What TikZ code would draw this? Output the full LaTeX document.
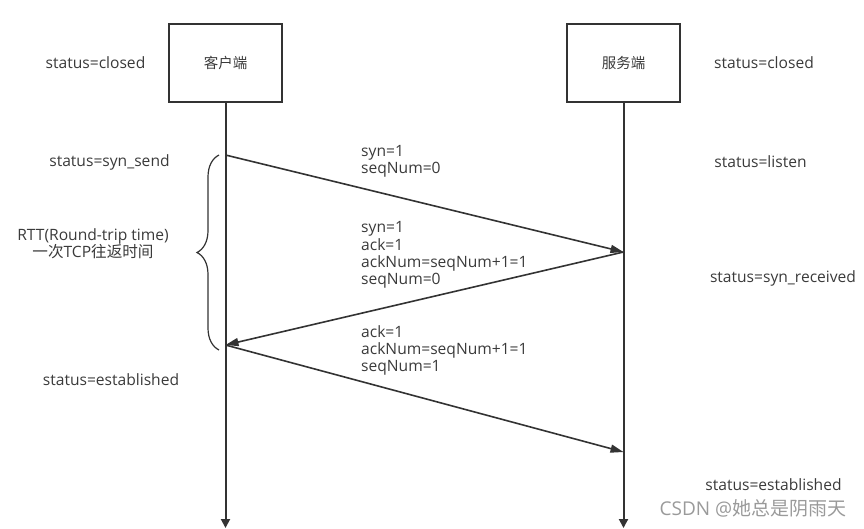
\documentclass[tikz,border=0pt]{standalone}
\usepackage{fontspec}
\setmainfont{Open Sans}
\newfontfamily\cjk{Noto Sans CJK SC}
\usetikzlibrary{arrows.meta,decorations.pathreplacing}
\definecolor{ink}{HTML}{333333}
\definecolor{txt}{HTML}{3A3A3A}
\definecolor{wm}{HTML}{9A9A9A}
\tikzset{
  actor/.style={draw=ink,line width=2.2pt,minimum width=113pt,minimum height=78pt,inner sep=0pt,font=\cjk\fontsize{14.5}{16}\selectfont,text=txt},
  life/.style={draw=ink,line width=2pt,-{Triangle[length=9pt,width=9pt]}},
  msg/.style={draw=ink,line width=1.6pt,-{Triangle[length=13pt,width=8pt]}},
  lbl/.style={anchor=west,inner sep=0pt,align=left,text=txt,font=\fontsize{15.6}{17.4}\selectfont},
  st/.style={inner sep=0pt,text=txt,font=\fontsize{15.6}{17}\selectfont},
}
\begin{document}
\begin{tikzpicture}[x=1pt,y=-1pt]
\useasboundingbox (0,0) rectangle (864,528);
\node[actor] (client) at (225.5,63) {客户端};
\node[actor] (server) at (623.5,63) {服务端};
\coordinate (cend) at (225.5,528);
\coordinate (send) at (623.5,528);
\draw[life] (client.south) -- (cend);
\draw[life] (server.south) -- (send);
\coordinate (c1) at (225.5,155);
\coordinate (s1) at (623.5,252);
\coordinate (c2) at (225.5,345);
\coordinate (s2) at (623.5,452);
\draw[msg] (c1) -- (s1);
\draw[msg] (s1) -- (c2);
\draw[msg] (c2) -- (s2);
\node[lbl] (m1) at (361,161) {syn=1\\seqNum=0};
\node[lbl] (m2) at (361,255) {syn=1\\ack=1\\ackNum=seqNum+1=1\\seqNum=0};
\node[lbl] (m3) at (361,350.5) {ack=1\\ackNum=seqNum+1=1\\seqNum=1};
\coordinate (b1) at (219,350);
\coordinate (b2) at (219,155);
\draw[draw=ink,line width=1.2pt,decorate,decoration={brace,amplitude=22pt,aspect=0.5}] (b1) -- (b2);
\node[st,align=center,font=\fontsize{15.6}{17}\selectfont] (rtt) at (93,244) {RTT(Round-trip time)\\{\cjk 一次}TCP{\cjk 往返时间}};
\node[st] (cs0) at (95.5,63) {status=closed};
\node[st] (ss0) at (764,63) {status=closed};
\node[st] (cs1) at (109.5,162) {status=syn\_send};
\node[st] (ss1) at (760.5,162) {status=listen};
\node[st] (ss2) at (783,278) {status=syn\_received};
\node[st] (cs2) at (111,380) {status=established};
\node[st] (ss3) at (773.5,485) {status=established};
\node[st,text=wm,font=\fontsize{19}{20}\selectfont] (wmk) at (753,508) {CSDN @{\cjk 她总是阴雨天}};
\end{tikzpicture}
\end{document}
